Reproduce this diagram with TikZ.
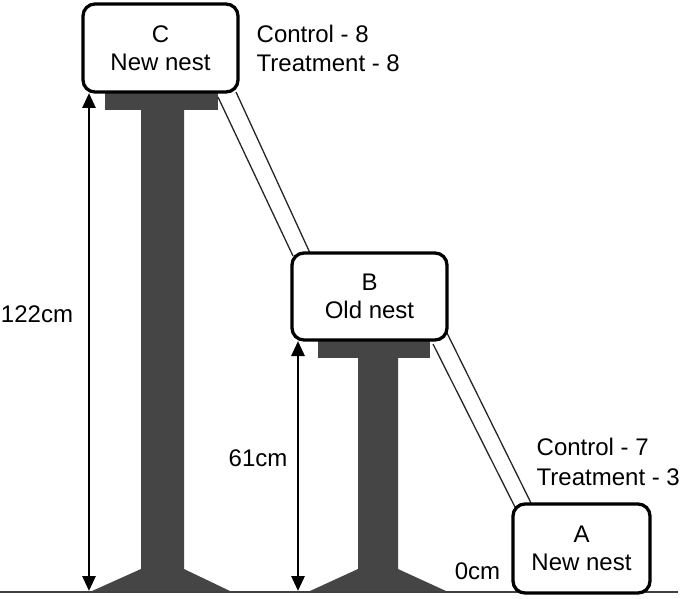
\documentclass[tikz,border=0pt]{standalone}
\usepackage{fontspec}
\setmainfont{Liberation Sans}
\usetikzlibrary{arrows.meta}
\begin{document}
\begin{tikzpicture}[x=1pt,y=-1pt,
  nestbox/.style={draw=black,line width=3.3pt,rounded corners=12pt,fill=white,align=center,inner sep=0pt,font=\fontsize{24}{28.5}\selectfont},
  pillar/.style={fill=black!73,draw=none},
  dimarrow/.style={line width=2.8pt,{Triangle[width=13pt,length=15pt]}-{Triangle[width=13pt,length=15pt]}},
  ramp/.style={line width=1.3pt,draw=black!85},
  lbl/.style={font=\fontsize{24}{29}\selectfont,inner sep=0pt},
  ground/.style={line width=2.2pt,draw=black!75}]
\useasboundingbox (0,0) rectangle (685,599);
% ground
\coordinate (g0) at (0,592);
\coordinate (g1) at (678,592);
\draw[ground] (g0) -- (g1);
% pillar C
\fill[pillar] (105,92) rectangle (218,110);
\fill[pillar] (141,110) -- (141,569) -- (92,591) -- (230,591) -- (184,569) -- (184,110) -- cycle;
% pillar B
\fill[pillar] (318,340) rectangle (430,358);
\fill[pillar] (358,358) -- (358,569) -- (310,591) -- (446,591) -- (398,569) -- (398,358) -- cycle;
% ramps
\coordinate (r1a) at (218,97);
\coordinate (r1b) at (293,256);
\coordinate (r2a) at (236,92);
\coordinate (r2b) at (310,253);
\coordinate (r3a) at (433,344);
\coordinate (r3b) at (516,509);
\coordinate (r4a) at (447,333);
\coordinate (r4b) at (531,503);
\draw[ramp] (r1a) -- (r1b);
\draw[ramp] (r2a) -- (r2b);
\draw[ramp] (r3a) -- (r3b);
\draw[ramp] (r4a) -- (r4b);
% boxes
\node[nestbox,minimum width=155pt,minimum height=88pt] (boxC) at (160.5,48) {C\\New nest};
\node[nestbox,minimum width=155pt,minimum height=87pt] (boxB) at (369.5,296.5) {B\\Old nest};
\node[nestbox,minimum width=137pt,minimum height=89pt] (boxA) at (581.5,548.5) {A\\New nest};
% dimension arrows
\coordinate (aCt) at (89,93);
\coordinate (aCb) at (89,591);
\coordinate (aBt) at (298,341);
\coordinate (aBb) at (298,591);
\draw[dimarrow] (aCt) -- (aCb);
\draw[dimarrow] (aBt) -- (aBb);
% labels
\node[lbl] (l122) at (37,314.5) {122cm};
\node[lbl] (l61) at (258,458.5) {61cm};
\node[lbl] (l0) at (477.5,571.5) {0cm};
\node[lbl,anchor=west] (cC1) at (256.5,33.5) {Control - 8};
\node[lbl,anchor=west] (cC2) at (256.5,63) {Treatment - 8};
\node[lbl,anchor=west] (cA1) at (536.5,447) {Control - 7};
\node[lbl,anchor=west] (cA2) at (536.5,477.5) {Treatment - 3};
\end{tikzpicture}
\end{document}
